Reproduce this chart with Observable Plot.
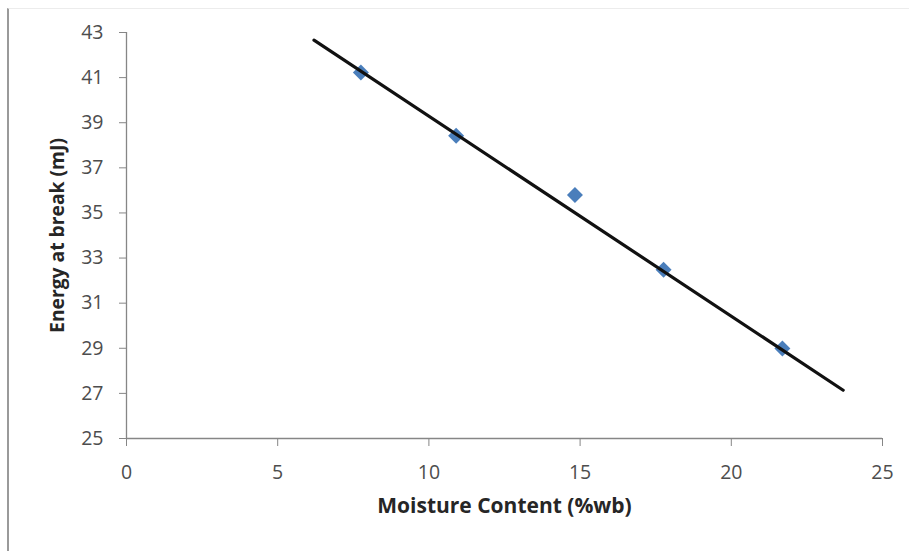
<!DOCTYPE html>
<html>
<head>
<meta charset="utf-8">
<script src="https://cdn.jsdelivr.net/npm/d3@7"></script>
<script src="https://cdn.jsdelivr.net/npm/@observablehq/plot@0.6"></script>
<style>
  html, body { margin: 0; padding: 0; background: #fff; }
  #wrap { position: relative; width: 909px; height: 551px; }
  #frame { position: absolute; left: 7px; top: 8px; right: 0; bottom: 0;
           border-left: 2px solid #9a9a9a; border-top: 1px solid #ececec; pointer-events: none; }
</style>
</head>
<body>
<div id="wrap"><div id="frame"></div></div>
<script>
// Data
const moisture = [7.75, 10.9, 14.83, 17.76, 21.69];
const energy   = [41.23, 38.42, 35.8, 32.48, 28.99];
// Trend line end points
const trendX = [6.2, 23.7];
const trendY = [42.66, 27.14];
const xTicks = [0, 5, 10, 15, 20, 25];
const yTicks = [25, 27, 29, 31, 33, 35, 37, 39, 41, 43];

const points = moisture.map((m, i) => ({x: m, y: energy[i]}));
const trend = trendX.map((t, i) => ({x: t, y: trendY[i]}));

const font = "'Open Sans', sans-serif";
const chart = Plot.plot({
  width: 909,
  height: 551,
  marginLeft: 126,
  marginRight: 27,
  marginTop: 32,
  marginBottom: 113,
  style: {fontFamily: font, fontSize: "19px", background: "transparent", overflow: "visible"},
  x: {domain: [0, 25]},
  y: {domain: [25, 43]},
  marks: [
    Plot.axisX({ticks: xTicks, tickSize: 8, tickPadding: 19, stroke: "#868686", color: "#4d4d4d",
      fontSize: 19.5, label: null}),
    Plot.axisY({ticks: yTicks, tickSize: 7, tickPadding: 16, stroke: "#868686", color: "#4d4d4d",
      fontSize: 19.5, label: null}),
    Plot.ruleX([0], {stroke: "#868686", strokeWidth: 1.3}),
    Plot.ruleY([25], {stroke: "#868686", strokeWidth: 1.3}),
    Plot.text(["Moisture Content (%wb)"], {frameAnchor: "bottom", dy: 74, fontWeight: "bold",
      fontSize: 21, fill: "#262626"}),
    Plot.text(["Energy at break (mJ)"], {frameAnchor: "left", textAnchor: "middle", dx: -69, rotate: -90,
      fontWeight: "bold", fontSize: 19.3, fill: "#262626"}),
    Plot.dot(points, {x: "x", y: "y", symbol: "diamond2", r: 7.2, fill: "#4a7ebb", stroke: "none"}),
    Plot.line(trend, {x: "x", y: "y", stroke: "#111", strokeWidth: 3.2, strokeLinecap: "round"})
  ]
});
document.getElementById("wrap").prepend(chart);
</script>
</body>
</html>
